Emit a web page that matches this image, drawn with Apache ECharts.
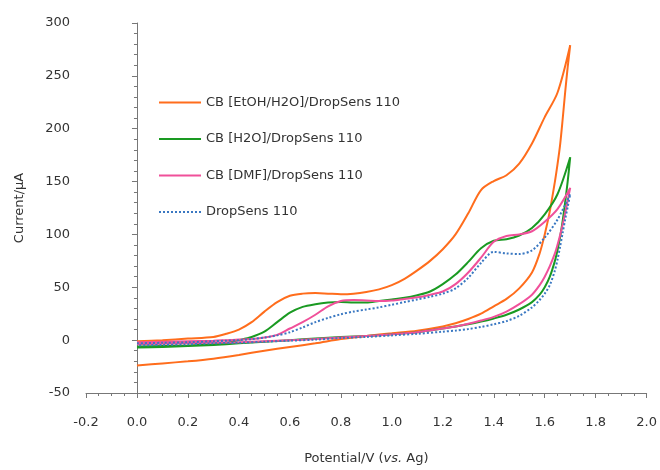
<!DOCTYPE html>
<html>
<head>
<meta charset="utf-8">
<title>CV curves</title>
<script src="https://cdn.jsdelivr.net/npm/echarts@6/dist/echarts.min.js"></script>
<style>
  html, body { margin: 0; padding: 0; background: #fff; }
  #main { width: 660px; height: 470px; }
</style>
</head>
<body>
<div id="main"></div>
<script>
// potential grid (V vs. Ag), forward scan then reverse scan
var potFwd = [0, 0.1, 0.2, 0.3, 0.35, 0.4, 0.45, 0.5, 0.55, 0.6, 0.65, 0.7, 0.75, 0.8, 0.85, 0.9, 0.95,
  1.0, 1.05, 1.1, 1.15, 1.2, 1.25, 1.3, 1.35, 1.4, 1.45, 1.5, 1.55, 1.6, 1.65, 1.7];
var potRev = [1.69, 1.68, 1.67, 1.66, 1.65, 1.64, 1.62, 1.6, 1.58, 1.55, 1.5, 1.45, 1.4, 1.35, 1.3,
  1.25, 1.2, 1.1, 1.0, 0.9, 0.8, 0.7, 0.6, 0.5, 0.4, 0.3, 0.2, 0.1, 0];

// current (uA)
var etohFwd = [-1, 0, 1.5, 3, 6, 10, 17, 27, 36, 42, 44, 44.5, 44, 43.5, 44, 45.5, 48,
  52, 58, 66, 75, 86, 100, 120, 142, 150.5, 156, 167, 186, 211, 234, 279];
var etohRev = [258, 234, 208, 184, 166, 150, 122, 100, 82, 64, 49, 39, 32, 25, 20,
  16, 13, 9, 6.5, 4, 1, -3, -6.5, -10, -14, -17.5, -20, -22, -24];

var h2oFwd = [-6, -5.5, -5, -4, -2.5, 0, 3, 8, 17, 26, 31.5, 34, 35.5, 36, 35.5, 35.5, 37,
  38.5, 40, 42.5, 46, 53, 62, 74, 87, 94, 95.5, 99, 106, 119, 138, 173];
var h2oRev = [150, 130, 112, 97, 85, 75, 60, 50, 43, 36, 29, 24, 20.5, 17.5, 15,
  13, 11, 7.5, 5.5, 4, 3, 1.5, 0, -1.5, -3, -4.5, -5.5, -6.5, -7];

var dmfFwd = [-2, -1.5, -1, -0.5, 0, 0.5, 1, 2.5, 5, 11, 17, 24, 32, 37, 38, 37.5, 37,
  37.5, 39, 40.5, 43, 46, 53, 64, 78, 93, 98.5, 100, 103, 112, 124, 144];
var dmfRev = [132, 120, 109, 99, 90, 82, 70, 60, 52, 43, 34, 27, 22, 18.5, 15.5,
  13, 11, 7.5, 5.5, 4, 2.5, 1, 0, -1, -2, -2.5, -3, -3.5, -4];

var bareFwd = [-3, -2.5, -2, -1, -0.5, 0, 1, 2.5, 4.5, 7.5, 12, 17, 21, 24.5, 27, 29, 31,
  33.5, 36, 38.5, 41, 44, 49, 59, 73, 83.5, 82, 81.5, 85, 97, 114, 138];
var bareRev = [126, 114, 101, 88, 76, 66, 52, 44, 38, 31, 23, 18, 15, 12.5, 10.5,
  9, 8, 6, 4.5, 3, 2, 0.5, -0.5, -1.5, -2.5, -3, -4, -4.5, -5];

var names = ['CB [EtOH/H2O]/DropSens 110', 'CB [H2O]/DropSens 110', 'CB [DMF]/DropSens 110', 'DropSens 110'];
var colors = ['#ff6d1c', '#1a9a22', '#f0509a', '#3a78c2'];

function loop(fwd, rev) {
  var pts = [];
  potFwd.forEach(function (x, i) { pts.push([x, fwd[i]]); });
  potRev.forEach(function (x, i) { pts.push([x, rev[i]]); });
  return pts;
}

var loops = [loop(etohFwd, etohRev), loop(h2oFwd, h2oRev), loop(dmfFwd, dmfRev), loop(bareFwd, bareRev)];

var font = 'DejaVu Sans';
var chart = echarts.init(document.getElementById('main'));

var option = {
  animation: false,
  backgroundColor: '#fff',
  textStyle: { fontFamily: font },
  grid: { left: 86, right: 12, top: 23, bottom: 71 },
  legend: {
    orient: 'vertical',
    left: 153,
    top: 91,
    itemWidth: 42,
    itemHeight: 14,
    itemGap: 23.5,
    itemStyle: { opacity: 0 },
    textStyle: { fontFamily: font, fontSize: 13, color: '#333' },
    data: names
  },
  xAxis: {
    type: 'value',
    min: -0.2,
    max: 2.0,
    interval: 0.2,
    name: '{a|Potential/V (}{i|vs.}{a| Ag)}',
    nameLocation: 'middle',
    nameGap: 59,
    nameTextStyle: {
      rich: {
        a: { fontFamily: font, fontSize: 13, color: '#333' },
        i: { fontFamily: font, fontSize: 13, color: '#333', fontStyle: 'italic' }
      }
    },
    axisLine: { onZero: false, lineStyle: { color: '#777' } },
    axisTick: { length: 5, lineStyle: { color: '#777' } },
    minorTick: { show: true, splitNumber: 4, length: 3, lineStyle: { color: '#777' } },
    splitLine: { show: false },
    axisLabel: {
      margin: 23,
      fontFamily: font,
      fontSize: 13,
      color: '#333',
      formatter: function (v) { return v.toFixed(1); }
    }
  },
  yAxis: {
    type: 'value',
    min: -50,
    max: 300,
    interval: 50,
    name: 'Current/\u03bcA',
    nameLocation: 'middle',
    nameGap: 60,
    nameTextStyle: { fontFamily: font, fontSize: 13, color: '#333' },
    axisLine: { show: true, lineStyle: { color: '#777' } },
    axisTick: { show: true, length: 5, lineStyle: { color: '#777' } },
    minorTick: { show: true, splitNumber: 5, length: 3, lineStyle: { color: '#777' } },
    splitLine: { show: false },
    axisLabel: { margin: 16, fontFamily: font, fontSize: 13, color: '#333' }
  },
  series: names.map(function (n, i) {
    return {
      name: n,
      type: 'line',
      data: loops[i],
      smooth: 0.3,
      symbol: 'none',
      color: colors[i],
      lineStyle: { color: colors[i], width: 2, type: i === 3 ? 'dotted' : 'solid' }
    };
  })
};

chart.setOption(option);
</script>
</body>
</html>
